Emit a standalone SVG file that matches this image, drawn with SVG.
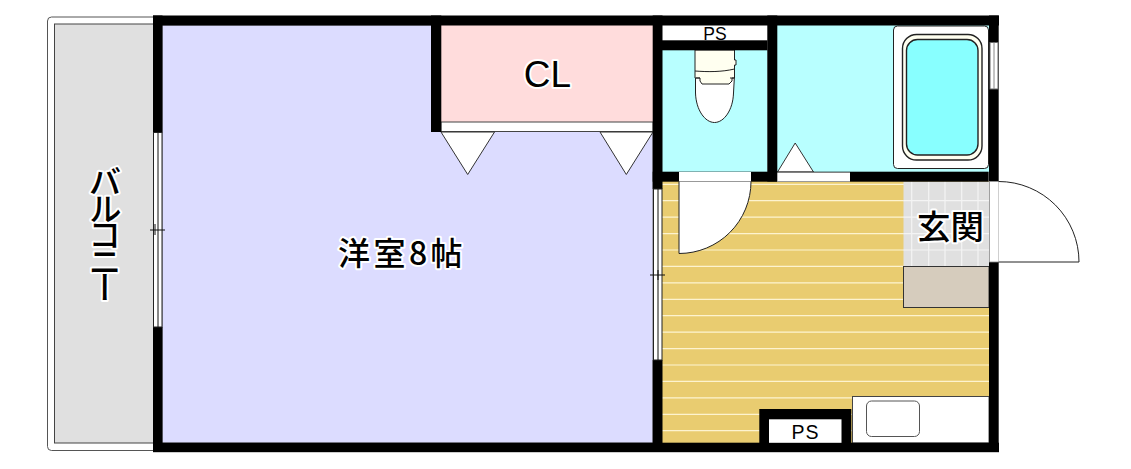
<svg xmlns="http://www.w3.org/2000/svg" width="1131" height="469" viewBox="0 0 1131 469">
<style>
.wall{fill:#000}
.line{stroke:#333;stroke-width:1;fill:#fff}
.gl{stroke:#fdf3cf;stroke-width:1.2;fill:none}
.tl{stroke:#f4f4f4;stroke-width:1.2;fill:none}
text{font-family:"Noto Sans CJK JP","Liberation Sans",sans-serif;font-weight:500;fill:#000;stroke:#fff;stroke-width:4;stroke-linejoin:round;paint-order:stroke}
.en{font-family:"Liberation Sans",sans-serif;font-weight:400}
.plain{stroke:none}
</style>
<rect width="1131" height="469" fill="#fff"/>
<g id="balcony">
<rect x="47.5" y="17" width="110" height="433.5" rx="4" fill="#fff" stroke="#555"/>
<rect x="54.5" y="24" width="104" height="419" fill="#e0e0e0" stroke="#444"/>
<text x="105" y="165" font-size="33" style="writing-mode:vertical-rl;letter-spacing:-6.500px" text-anchor="start">バルコニー</text>
</g>
<g id="room-western">
<rect x="162" y="25" width="491" height="418" fill="#dcdcff" stroke="#555" stroke-width=".8"/>
<text x="402" y="265" font-size="32" letter-spacing="3.500" text-anchor="middle">洋室8帖</text>
</g>
<g id="closet">
<rect x="441" y="25" width="212" height="97" fill="#ffdcdc"/>
<rect x="441" y="122" width="212" height="9.500" fill="#fff" stroke="#444" stroke-width="1"/>
<polygon class="line" points="441,132 467.700,174.500 494.500,132"/>
<polygon class="line" points="600,132 626.300,174.500 653,132"/>
<text class="en" x="547.500" y="87" font-size="37" text-anchor="middle">CL</text>
</g>
<g id="toilet">
<rect x="662" y="50" width="105.500" height="122" fill="#b8ffff"/>
<path d="M695.500 75V93C696 110 705 122.500 714.500 122.500C724 122.500 733 110 733.500 93L734.500 75Z" fill="#fff" stroke="#222" stroke-width="1"/>
<path d="M695 50H734.500V60H736V65H734.500V78L732 78V81L729 84H702L700 81V78H695Z" fill="#fffff0" stroke="#222" stroke-width="1"/>
<path d="M695 71C708 72 722 72 734.500 69M696 78H700M730 78H734" fill="none" stroke="#222" stroke-width="1"/>
</g>
<g id="ps-upper">
<rect x="662" y="25.500" width="105.500" height="15" fill="#fff"/>
<text class="en plain" x="715" y="39.500" font-size="17.500" text-anchor="middle">PS</text>
</g>
<g id="bathroom">
<rect x="777" y="25" width="212" height="147" fill="#b8ffff"/>
<rect x="893.500" y="26" width="95" height="142.500" rx="4" fill="#fff" stroke="#222"/>
<rect x="902.500" y="34.500" width="79.500" height="125.500" rx="14" fill="#fffff0" stroke="#222" stroke-width="1.400"/>
<rect x="906.500" y="39.500" width="71.500" height="115.500" rx="11" fill="#88ffff" stroke="#222" stroke-width="1.400"/>
<polygon class="line" points="777.500,172 795.200,143 813.500,172"/>
</g>
<g id="ldk">
<rect x="662" y="181" width="327" height="262" fill="#e9cc70"/>
<path class="gl" d="M662 184.300H989M662 200.700H989M662 217.100H989M662 233.600H989M662 250H989M662 266.400H989M662 282.900H989M662 299.300H989M662 315.700H989M662 332.100H989M662 348.600H989M662 365H989M662 381.400H989M662 397.900H989M662 414.300H989M662 430.700H989"/>
</g>
<g id="entrance">
<rect x="903.500" y="181.500" width="85.500" height="85" fill="#e0e0e0"/>
<path class="tl" d="M911.700 181.500V266.500M928.700 181.500V266.500M945 181.500V266.500M961.700 181.500V266.500M978 181.500V266.500M903.500 200.700H989M903.500 217.100H989M903.500 233.600H989M903.500 250H989"/>
<rect x="903.500" y="266.500" width="85.500" height="41" fill="#d6ccbd" stroke="#333"/>
<text x="950.500" y="239" font-size="33.500" text-anchor="middle">玄関</text>
</g>
<g id="kitchen">
<rect x="852.500" y="396.500" width="136.500" height="46.500" fill="#fff" stroke="#444"/>
<rect x="866.500" y="401" width="53" height="35.500" rx="5" fill="#fff" stroke="#555"/>
</g>
<g id="walls">
<rect class="wall" x="153" y="15.500" width="846" height="10"/>
<rect class="wall" x="153" y="442.700" width="846" height="9.500"/>
<rect class="wall" x="153" y="15.500" width="9.500" height="117"/>
<rect class="wall" x="153" y="327" width="9.500" height="125"/>
<rect class="wall" x="431" y="15.500" width="10.300" height="116.500"/>
<rect class="wall" x="652.700" y="15.500" width="9.800" height="173.500"/>
<rect class="wall" x="652.700" y="360" width="9.800" height="92"/>
<rect class="wall" x="767.300" y="15.500" width="10" height="166"/>
<rect class="wall" x="989" y="15.500" width="9.700" height="166"/>
<rect class="wall" x="989" y="262" width="9.700" height="190"/>
<rect class="wall" x="652.700" y="171.700" width="336" height="10"/>
<rect class="wall" x="662" y="40.300" width="105.500" height="10"/>
<rect class="wall" x="759.300" y="409" width="92" height="36"/>
</g>
<g id="ps-lower">
<rect x="769" y="419.300" width="72.500" height="23.500" fill="#fff"/>
<text class="en plain" x="805.500" y="438.500" font-size="19.500" letter-spacing="1" text-anchor="middle">PS</text>
</g>
<g id="door-toilet">
<rect x="679" y="172" width="72" height="9.500" fill="#fff"/>
<path d="M679 181.500H751V184A72 72 0 0 1 679 253.500Z" fill="#fff"/>
<path d="M679 181.500H751" stroke="#999" fill="none"/>
<path d="M751 181.500A72 72 0 0 1 679 253.500V181.500" stroke="#222" fill="none"/>
</g>
<g id="door-bath">
<rect x="777.300" y="172.500" width="72.700" height="9" fill="#fff"/>
<path d="M777.300 181.500H850" stroke="#999" fill="none"/>
</g>
<g id="door-entrance">
<rect x="989.500" y="181.500" width="9" height="80.500" fill="#fff" stroke="#888" stroke-width=".8"/>
<path d="M998.500 181.500A80.500 80.500 0 0 1 1079 262H998.500" fill="#fff" stroke="#222"/>
</g>
<g id="window-balcony">
<rect x="153.500" y="132.500" width="8.500" height="194.500" fill="#fff" stroke="#222"/>
<path d="M158 132.500V327M150 230H165M155 224V235" stroke="#111" fill="none"/>
</g>
<g id="window-ldk">
<rect x="653.500" y="189" width="8.500" height="171" fill="#fff" stroke="#222"/>
<path d="M658 189V360M650 275H665M658 270V280" stroke="#111" fill="none"/>
</g>
<g id="window-bath">
<rect x="990" y="42.500" width="8" height="46.500" fill="#fff" stroke="#666"/>
<path d="M994 42.500V89" stroke="#888"/>
</g>
</svg>
